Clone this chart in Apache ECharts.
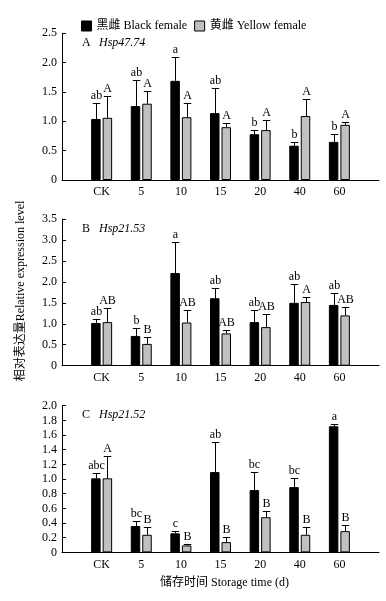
<!DOCTYPE html>
<html><head><meta charset="utf-8">
<script src="https://cdn.jsdelivr.net/npm/echarts@6/dist/echarts.min.js"></script>
<style>html,body{margin:0;padding:0;background:#fff}#c{width:386px;height:601px}</style>
</head><body><div id="c"></div>
<script>
const categories = ['CK', '5', '10', '15', '20', '40', '60'];
const seriesNames = ['黑雌 Black female', '黄雌 Yellow female'];

// Panel A: Hsp47.74
const aBlack = [1.04, 1.26, 1.69, 1.14, 0.78, 0.585, 0.65];
const aBlackErr = [1.31, 1.70, 2.09, 1.56, 0.86, 0.64, 0.78];
const aGray = [1.06, 1.30, 1.07, 0.90, 0.85, 1.09, 0.94];
const aGrayErr = [1.44, 1.51, 1.31, 0.97, 1.02, 1.375, 0.98];
const aBlackLbl = ['ab', 'ab', 'a', 'ab', 'b', 'b', 'b'];
const aGrayLbl = ['A', 'A', 'A', 'A', 'A', 'A', 'A'];

// Panel B: Hsp21.53
const bBlack = [1.02, 0.71, 2.21, 1.61, 1.04, 1.50, 1.45];
const bBlackErr = [1.11, 0.91, 2.94, 1.85, 1.32, 1.94, 1.73];
const bGray = [1.04, 0.52, 1.03, 0.77, 0.92, 1.52, 1.20];
const bGrayErr = [1.37, 0.68, 1.32, 0.84, 1.23, 1.65, 1.39];
const bBlackLbl = ['ab', 'b', 'a', 'ab', 'ab', 'ab', 'ab'];
const bGrayLbl = ['AB', 'B', 'AB', 'AB', 'AB', 'A', 'AB'];

// Panel C: Hsp21.52
const cBlack = [1.01, 0.36, 0.26, 1.095, 0.85, 0.89, 1.72];
const cBlackErr = [1.08, 0.43, 0.29, 1.50, 1.10, 1.01, 1.745];
const cGray = [1.01, 0.24, 0.095, 0.14, 0.48, 0.24, 0.29];
const cGrayErr = [1.31, 0.345, 0.12, 0.205, 0.57, 0.345, 0.38];
const cBlackLbl = ['abc', 'bc', 'c', 'ab', 'bc', 'bc', 'a'];
const cGrayLbl = ['A', 'B', 'B', 'B', 'B', 'B', 'B'];

const panelLetters = ['A', 'B', 'C'];
const panelGenes = ['Hsp47.74', 'Hsp21.53', 'Hsp21.52'];
const yMax = [2.5, 3.5, 2.0];
const yInterval = [0.5, 0.5, 0.2];

const xTitle = '储存时间 Storage time (d)';
const yTitle = '相对表达量Relative expression level';

const panels = [
  [aBlack, aBlackErr, aGray, aGrayErr, aBlackLbl, aGrayLbl],
  [bBlack, bBlackErr, bGray, bGrayErr, bBlackLbl, bGrayLbl],
  [cBlack, cBlackErr, cGray, cGrayErr, cBlackLbl, cGrayLbl]
];

const FONT = '"Liberation Serif", "Noto Sans CJK SC", serif';
const BAR_W = 9.5, GAP = 2, CAP = 7.5;
const tops = [33.3, 219, 405.7];
const colors = ['#000000', '#c0c0c0'];
const xCats = [''].concat(categories, ['']);

const grids = [], xAxes = [], yAxes = [], series = [], titles = [];
panels.forEach((p, k) => {
  grids.push({ left: 62, right: 7, top: tops[k], height: 146.7, containLabel: false });
  xAxes.push({
    type: 'category', gridIndex: k, data: xCats, boundaryGap: false,
    axisLine: { lineStyle: { color: '#000', width: 1 } },
    axisTick: { show: false },
    axisLabel: { color: '#000', fontFamily: FONT, fontSize: 12, margin: 6, interval: 0 }
  });
  yAxes.push({
    type: 'value', gridIndex: k, min: 0, max: yMax[k], interval: yInterval[k],
    axisLine: { show: true, lineStyle: { color: '#000', width: 1 } },
    axisTick: { show: true, inside: true, length: 4, lineStyle: { color: '#000' } },
    splitLine: { show: false },
    axisLabel: { color: '#000', fontFamily: FONT, fontSize: 12, margin: 5,
      formatter: v => v === 0 ? '0' : v.toFixed(1) }
  });
  [0, 1].forEach(s => {
    const vals = p[s * 2];
    series.push({
      type: 'bar', name: seriesNames[s], xAxisIndex: k, yAxisIndex: k,
      data: [null].concat(vals, [null]), barWidth: BAR_W, barGap: (GAP / BAR_W * 100) + '%',
      itemStyle: { color: colors[s], borderColor: '#000', borderWidth: 1 },
      emphasis: { disabled: true }, z: 2
    });
  });
  [0, 1].forEach(s => {
    const vals = p[s * 2], errs = p[s * 2 + 1], lbls = p[4 + s];
    const data = vals.map((v, i) => [i + 1, v, errs[i], lbls[i]]);
    const off = (s === 0 ? -1 : 1) * (BAR_W / 2 + GAP / 2);
    series.push({
      type: 'custom', xAxisIndex: k, yAxisIndex: k, data: data, z: 3,
      silent: true, encode: { x: 0, y: [1, 2] },
      renderItem: (params, api) => {
        const idx = api.value(0);
        const base = api.coord([idx, api.value(1)]);
        const top = api.coord([idx, api.value(2)]);
        const x = Math.round(base[0] + off) + 0.5;
        const yb = base[1], yt = Math.round(top[1]) + 0.5;
        const lbl = data[params.dataIndex][3];
        return {
          type: 'group', children: [
            { type: 'line', shape: { x1: x, y1: yb, x2: x, y2: yt }, style: { stroke: '#000', lineWidth: 1 } },
            { type: 'line', shape: { x1: x - CAP / 2, y1: yt, x2: x + CAP / 2, y2: yt }, style: { stroke: '#000', lineWidth: 1 } },
            { type: 'text', x: x, y: yt - 2, style: { text: lbl, fill: '#000', font: '12px ' + FONT, textAlign: 'center', textVerticalAlign: 'bottom' } }
          ]
        };
      }
    });
  });
  titles.push({
    left: 77, top: tops[k] - 1.5,
    text: '{n|' + panelLetters[k] + '}{g|' + panelGenes[k] + '}',
    textStyle: {
      fontWeight: 'normal',
      rich: {
        n: { fontFamily: FONT, fontSize: 12, color: '#000', width: 17, fontWeight: 'normal' },
        g: { fontFamily: FONT, fontSize: 12, color: '#000', fontStyle: 'italic', fontWeight: 'normal' }
      }
    }
  });
});

const chart = echarts.init(document.getElementById('c'), null, { renderer: 'canvas' });
chart.setOption({
  animation: false,
  backgroundColor: '#fff',
  title: titles,
  legend: {
    left: 76, top: 15, itemWidth: 10, itemHeight: 10, itemGap: 7,
    icon: 'rect', data: seriesNames,
    textStyle: { color: '#000', fontFamily: FONT, fontSize: 12 },
    itemStyle: { borderColor: '#000', borderWidth: 1 }
  },
  grid: grids, xAxis: xAxes, yAxis: yAxes, series: series,
  graphic: [
    { type: 'text', left: 160, top: 577, style: { text: xTitle, fill: '#000', font: '12px ' + FONT } },
    { type: 'text', x: 21, y: 291, rotation: Math.PI / 2, style: { text: yTitle, fill: '#000', font: '12px ' + FONT, textAlign: 'center', textVerticalAlign: 'middle' } }
  ]
});
</script></body></html>
